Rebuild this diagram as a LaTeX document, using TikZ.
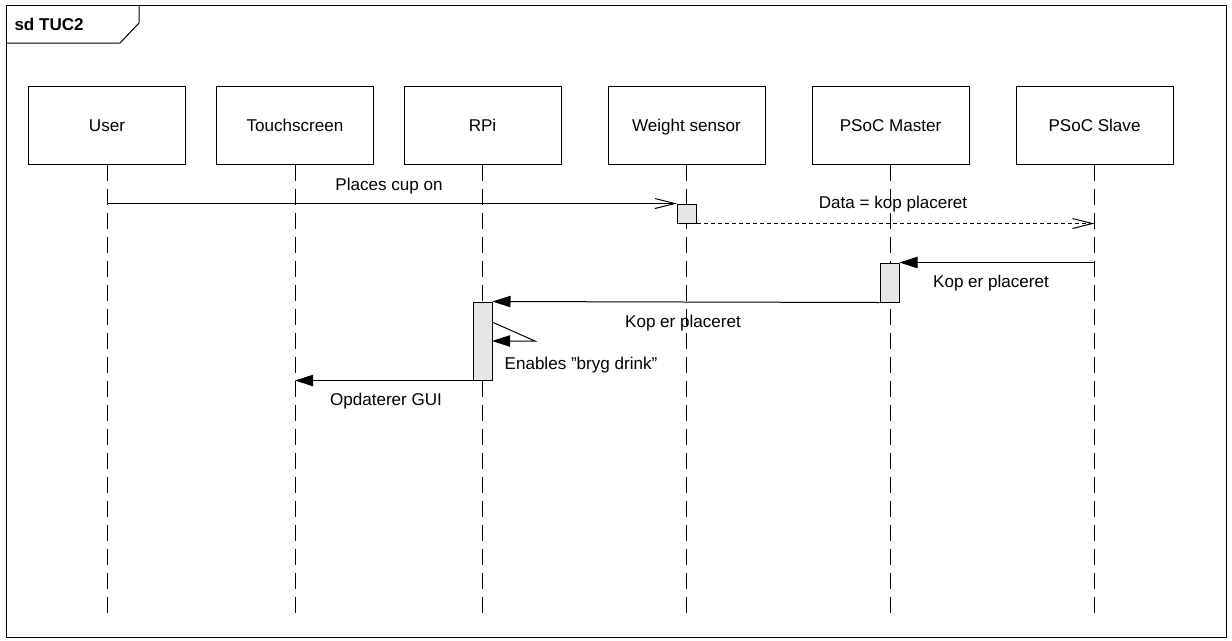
\documentclass[tikz,border=0pt]{standalone}
\usepackage{fontspec}
\setmainfont{Liberation Sans}
\usetikzlibrary{arrows.meta}
\begin{document}
\begin{tikzpicture}[x=0.75pt,y=-0.75pt,line width=0.75pt,
  txt/.style={font=\fontsize{12.8}{15}\selectfont, inner sep=0pt, text height=9.2pt, text depth=0pt},
  head/.style={draw, txt, minimum width=117.75pt, minimum height=58.5pt},
  lifeline/.style={dash pattern=on 12pt off 6pt},
  act/.style={draw, fill=black!10, minimum width=14.25pt, inner sep=0pt},
  msg/.style={-{Triangle[length=13.5pt,width=8.5pt]}},
  openmsg/.style={-{Straight Barb[length=15pt,width=7.5pt,line width=0.75pt]}},
  reply/.style={openmsg, dash pattern=on 3pt off 2.25pt}
]
\useasboundingbox (0,0) rectangle (1232,640);
% frame
\draw (6,5) rectangle (1226,637);
\draw (6,43) -- (120,43) -- (139,23) -- (139,5);
\node[txt, font=\fontsize{12.8}{15}\selectfont\bfseries, anchor=west] (title) at (14,24) {sd TUC2};
% heads
\node[head] (user)   at (107,125)  {User};
\node[head] (touch)  at (295,125)  {Touchscreen};
\node[head] (rpi)    at (482.5,125) {RPi};
\node[head] (ws)     at (686.5,125) {Weight sensor};
\node[head] (master) at (890.5,125) {PSoC Master};
\node[head] (slave)  at (1094.5,125) {PSoC Slave};
% lifelines
\coordinate (bottom) at (0,613);
\foreach \n in {user,touch,rpi,ws,master,slave}
  \draw[lifeline] (\n.south) -- (\n.south |- bottom);
% activations
\node[act, minimum height=14.25pt] (wsact) at (687,213.5) {};
\node[act, minimum height=29.25pt] (mact) at (889.5,282.5) {};
\node[act, minimum height=58.5pt] (ract) at (482.5,341) {};
% messages
\draw[openmsg] (user |- wsact.north) -- (wsact.north west);
\node[txt] (l1) at (389,184) {Places cup on};
\draw[reply] (wsact.south east) -- (slave |- wsact.south);
\node[txt] (l2) at (893,202) {Data = kop placeret};
\draw[msg] (slave |- mact.north) -- (mact.north east);
\node[txt] (l3) at (991,281) {Kop er placeret};
\draw[msg] (mact.south west) -- (ract.north east);
\node[txt] (l4) at (683,321) {Kop er placeret};
\coordinate (selfA) at (492,322);
\coordinate (selfB) at (535,341);
\coordinate (selfC) at (492,341);
\draw[msg] (selfA) -- (selfB) -- (selfC);
\node[txt] (l5) at (581,363) {Enables ”bryg drink”};
\draw[msg] (ract.south west) -- (touch |- ract.south);
\node[txt] (l6) at (386,399) {Opdaterer GUI};
\end{tikzpicture}
\end{document}
